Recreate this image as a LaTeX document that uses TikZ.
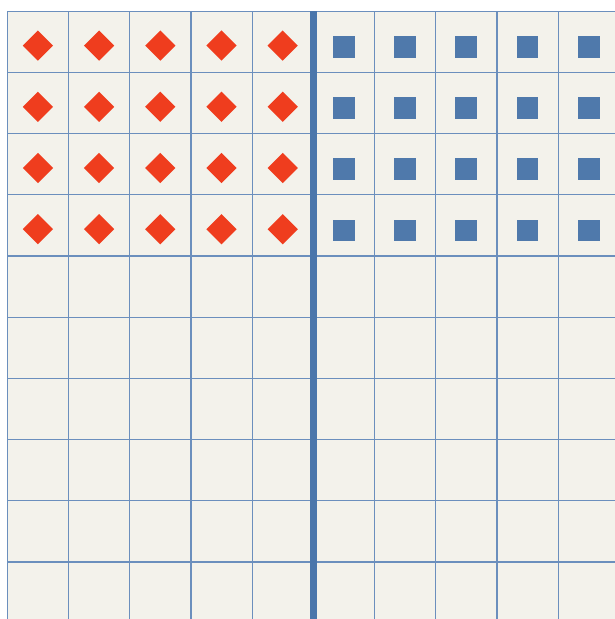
\documentclass[tikz,border=0pt]{standalone}
\usetikzlibrary{shapes.geometric}
\definecolor{cellbg}{HTML}{F3F2EB}
\definecolor{gridc}{HTML}{6B8FBD}
\definecolor{thickc}{HTML}{4A76AB}
\definecolor{dred}{HTML}{EF3D1E}
\definecolor{sblue}{HTML}{4F79AB}
\begin{document}
\begin{tikzpicture}[x=1pt,y=-1pt,
  gridline/.style={draw=gridc, line width=1.2pt},
  divider/.style={draw=thickc, line width=7pt},
  reddiamond/.style={diamond, fill=dred, inner sep=0pt, minimum width=30.4pt, minimum height=30.4pt},
  bluesquare/.style={rectangle, fill=sblue, inner sep=0pt, minimum size=21.8pt}]
\useasboundingbox (0,0) rectangle (615,619);
\clip (0,0) rectangle (615,619);
\fill[cellbg] (7.3,11.2) rectangle (630,630);
\foreach \i in {0,...,10} {
  \draw[gridline] (7.3+61.2*\i,11.2) -- (7.3+61.2*\i,630);
  \draw[gridline] (7.3,11.2+61.2*\i) -- (630,11.2+61.2*\i);
}
\draw[divider] (313.5,11.2) -- (313.5,630);
\foreach \r in {0,...,3} {
  \foreach \c in {0,...,4} {
    \node[reddiamond] (d\r\c) at (37.9+61.2*\c,45.6+61.2*\r) {};
  }
  \foreach \c in {5,...,9} {
    \node[bluesquare] (s\r\c) at (343.9+61.2*\c-306,46.8+61.2*\r) {};
  }
}
\end{tikzpicture}
\end{document}
